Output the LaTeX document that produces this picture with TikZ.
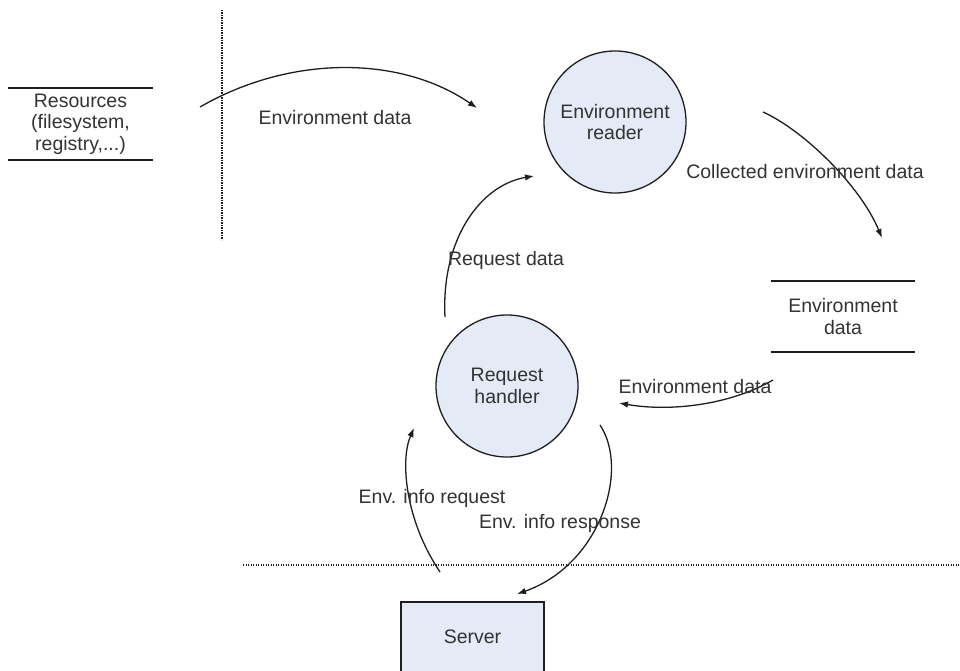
\documentclass[tikz,border=0pt]{standalone}
\usepackage{fontspec}
\setmainfont{Liberation Sans}
\usetikzlibrary{arrows.meta}
\definecolor{ink}{HTML}{1E1E1E}
\definecolor{txt}{HTML}{333333}
\definecolor{bubble}{HTML}{E4EAF6}
\begin{document}
\begin{tikzpicture}[x=1pt,y=-1pt,
  every node/.style={font=\fontsize{19.5}{21.5}\selectfont, text=txt, align=center, inner sep=0pt},
  process/.style={circle, draw=ink, line width=1.3pt, fill=bubble, minimum size=142pt},
  store/.style={minimum width=145pt, minimum height=72pt},
  storeline/.style={draw=ink, line width=1.5pt},
  flow/.style={draw=ink, line width=1.3pt, -{Latex[length=9pt,width=6.5pt]}},
  boundary/.style={draw=ink, line width=1.4pt, dash pattern=on 1.3pt off 1.2pt}]
\useasboundingbox (0,0) rectangle (960,671);
\clip (0,0) rectangle (960,671);

% trust boundaries
\coordinate (vb1) at (222,10);
\coordinate (vb2) at (222,240);
\coordinate (hb1) at (243,565);
\coordinate (hb2) at (960,565);
\draw[boundary] (vb1) -- (vb2);
\draw[boundary] (hb1) -- (hb2);

% processes
\node[process] (reader) at (615,122) {Environment\\reader};
\node[process] (handler) at (507,386) {Request\\handler};

% data stores
\node[store] (res) at (80.5,124) {Resources\\(filesystem,\\registry,...)};
\draw[storeline] (res.north west) -- (res.north east) (res.south west) -- (res.south east);
\node[store, minimum width=144pt, minimum height=71pt] (envstore) at (843,316.5) {Environment\\data};
\draw[storeline] (envstore.north west) -- (envstore.north east) (envstore.south west) -- (envstore.south east);

% external entity
\node[draw=ink, line width=1.4pt, fill=bubble, minimum width=143pt, minimum height=70pt] (server) at (472.5,637) {Server};

% flow end points
\coordinate (f1s) at (200,107);
\coordinate (f1e) at (477,108);
\coordinate (f2s) at (763,112);
\coordinate (f2e) at (882,238);
\coordinate (f3s) at (445,317);
\coordinate (f3e) at (534,176);
\coordinate (f4s) at (773,380);
\coordinate (f4e) at (619,403);
\coordinate (f5s) at (440,572);
\coordinate (f5e) at (414,428);
\coordinate (f6s) at (600,425);
\coordinate (f6e) at (517,594);

% flows
\draw[flow] (f1s) .. controls (290,55) and (400,55) .. (f1e);
\draw[flow] (f2s) .. controls (803,130) and (860,185) .. (f2e);
\draw[flow] (f3s) .. controls (441,240) and (480,185) .. (f3e);
\draw[flow] (f4s) .. controls (730,405) and (670,412) .. (f4e);
\draw[flow] (f5s) .. controls (405,520) and (400,460) .. (f5e);
\draw[flow] (f6s) .. controls (630,470) and (600,565) .. (f6e);

% flow labels
\node (l1) at (335,118) {Environment data};
\node (l2) at (805,172) {Collected environment data};
\node (l3) at (506,260) {Request data};
\node (l4) at (695,387) {Environment data};
\node (l5) at (432,498) {Env. info request};
\node (l6) at (560,523) {Env. info response};
\end{tikzpicture}
\end{document}
